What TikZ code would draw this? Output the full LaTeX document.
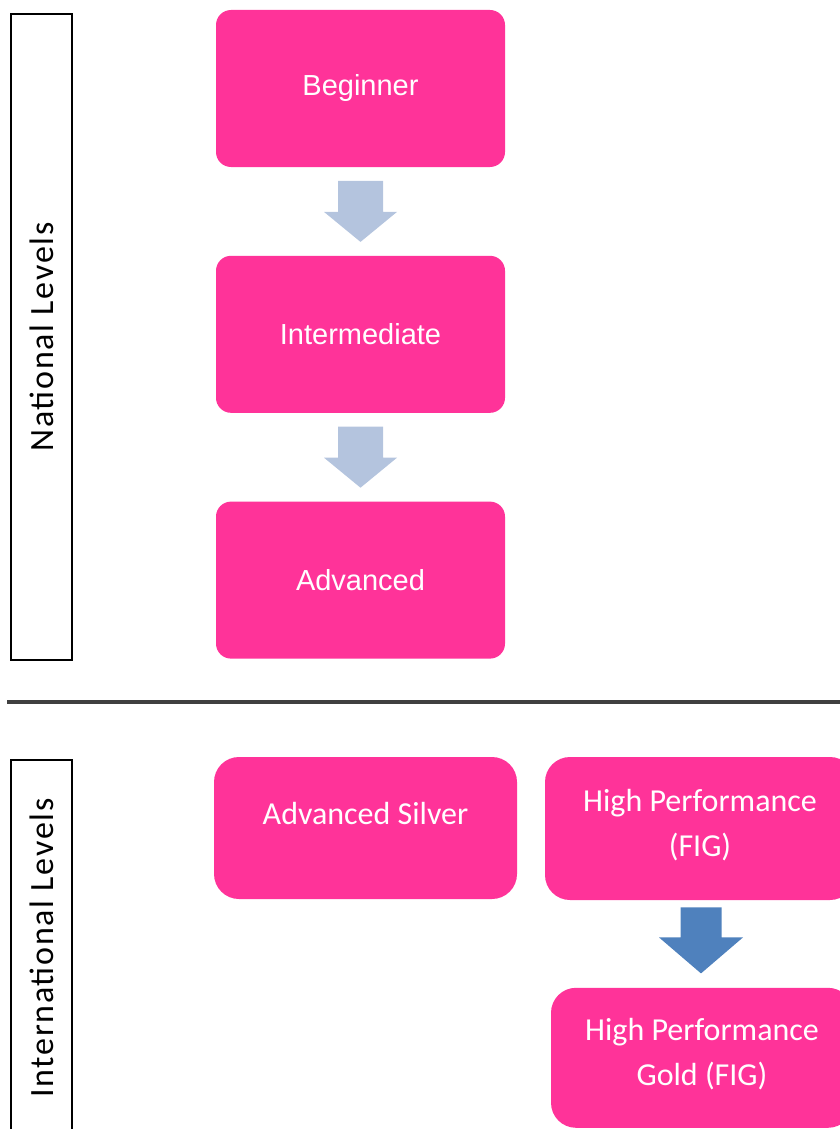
\documentclass[tikz,border=0pt]{standalone}
\usepackage{fontspec}
\setmainfont{Liberation Sans}
\newfontfamily\calibrifont{Carlito}
\newfontfamily\calibriwide{Carlito}[LetterSpace=5]
\usetikzlibrary{positioning,calc}

\definecolor{levelpink}{RGB}{255,51,153}
\definecolor{arrowlight}{RGB}{180,196,222}
\definecolor{arrowdark}{RGB}{79,129,189}
\definecolor{sepgray}{RGB}{64,64,64}

\begin{document}
\begin{tikzpicture}[x=0.5pt,y=-0.5pt,
    natbox/.style={rectangle, fill=levelpink, rounded corners=7.5pt, minimum width=144.5pt, minimum height=78.5pt, text=white, font=\fontsize{14.5}{17}\selectfont},
    intbox/.style={rectangle, fill=levelpink, rounded corners=12.5pt, text=white, align=center, font=\calibrifont\fontsize{16}{22.5}\selectfont},
    sidebox/.style={rectangle, draw=black, line width=0.75pt, rotate=90, minimum height=30.5pt, font=\calibriwide\fontsize{17}{20}\selectfont},
    sepline/.style={draw=sepgray, line width=2pt}]
    \useasboundingbox (0,0) rectangle (840,1129);
    \clip (0,0) rectangle (840,1129);

    % Side labels
    \node[sidebox, minimum width=323pt] (national) at (41.5,337) {National Levels};
    \node[sidebox, minimum width=188pt] (international) at (41.5,948) {International Levels};

    % National levels
    \node[natbox] (beginner) at (360.5,88.5) {Beginner};
    \node[natbox, below=44pt of beginner] (intermediate) {Intermediate};
    \node[natbox, below=44pt of intermediate] (advanced) {Advanced};

    \coordinate (arr1) at ($(beginner.south)!0.5!(intermediate.north)$);
    \coordinate (arr2) at ($(intermediate.south)!0.5!(advanced.north)$);
    \foreach \a in {arr1,arr2}
        \fill[arrowlight] (\a) ++(-22.5,-30.5) -- ++(45,0) -- ++(0,31) -- ++(14,0) -- ++(-36.5,30) -- ++(-36.5,-30) -- ++(14,0) -- cycle;

    % Separator
    \coordinate (sep-l) at (7,702);
    \coordinate (sep-r) at (840,702);
    \draw[sepline] (sep-l) -- (sep-r);

    % International levels
    \node[intbox, minimum width=151.5pt, minimum height=71pt, text depth=15pt] (silver) at (365.5,828) {Advanced Silver};
    \node[intbox, minimum width=155pt, minimum height=71.5pt, text depth=6pt] (hpfig) at (700,828.5) {High Performance\\(FIG)};
    \node[intbox, minimum width=151pt, minimum height=70pt, text depth=6pt, below=43.5pt of hpfig, xshift=1pt] (hpgold) {High Performance\\Gold (FIG)};

    \coordinate (arr3) at ($(hpfig.south)!0.5!(hpgold.north)$);
    \fill[arrowdark] (arr3) ++(-20.5,-36.5) -- ++(41,0) -- ++(0,30) -- ++(21.5,0) -- ++(-42,36) -- ++(-42,-36) -- ++(21.5,0) -- cycle;
\end{tikzpicture}
\end{document}
